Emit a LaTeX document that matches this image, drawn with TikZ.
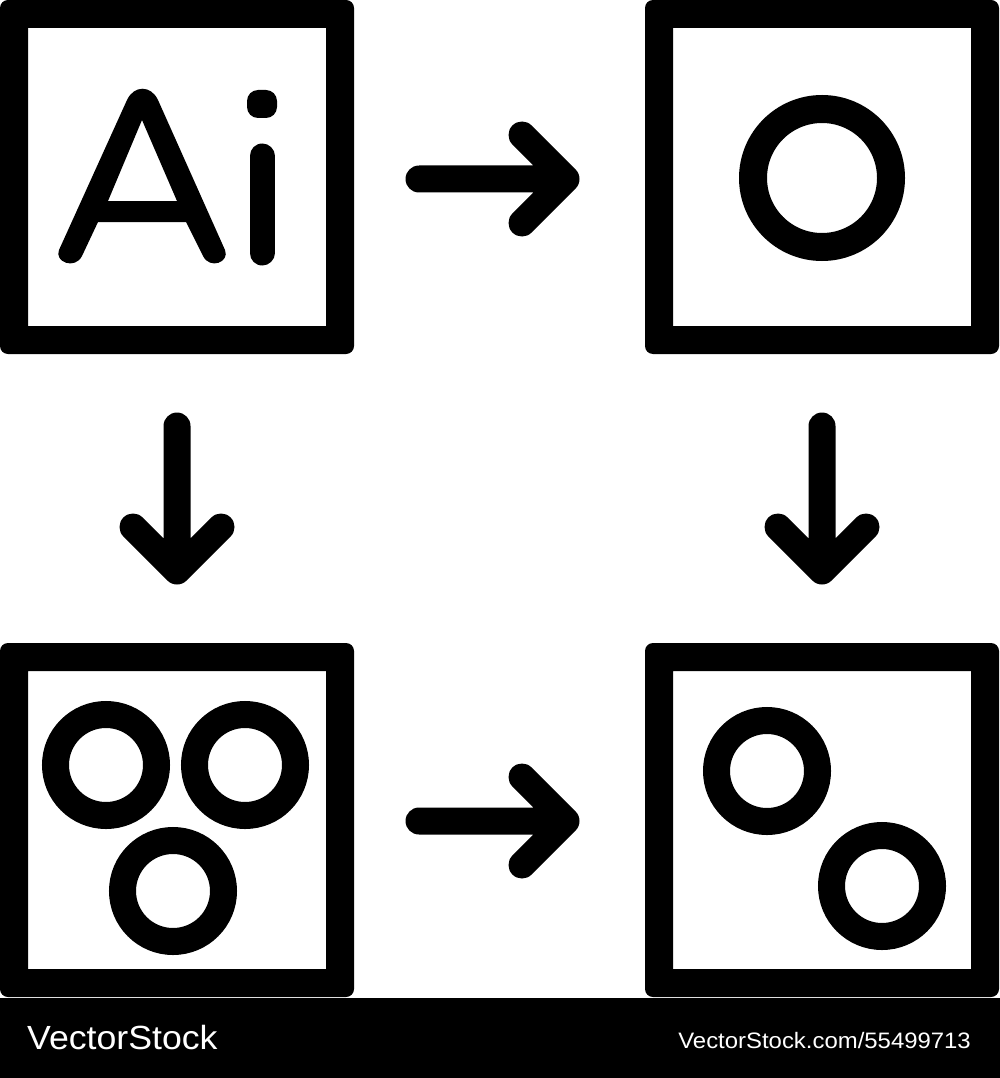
\documentclass[tikz,border=0pt]{standalone}
\usepackage{fontspec}
\setmainfont{Liberation Sans}
\usetikzlibrary{calc}
\begin{document}
\begin{tikzpicture}[x=1pt,y=-1pt,
  box/.style={minimum size=354pt, inner sep=0pt, outer sep=0pt},
  conn/.style={line width=27pt, line cap=round, line join=round},
  ring/.style={line width=27pt},
  wm/.style={text=white, inner sep=0pt}]
\useasboundingbox (0,0) rectangle (1000,1078);

% boxes
\node[box] (ai)    at (177,177) {};
\node[box] (one)   at (822,177) {};
\node[box] (three) at (177,820) {};
\node[box] (two)   at (822,820) {};
\foreach \n in {ai,one,three,two}
  \fill[even odd rule, rounded corners=8pt] (\n.north west) rectangle (\n.south east)
     [sharp corners] ($(\n.north west)+(28,28)$) rectangle ($(\n.south east)+(-28,-28)$);

% "Ai" glyphs
\fill[even odd rule] (59,250) -- (127,100) .. controls (134,85) and (151,85) .. (158,100)
   -- (225,250) .. controls (230,262) and (210,270) .. (203,256) -- (186,222) -- (98,222)
   -- (82,256) .. controls (75,270) and (54,262) .. (59,250) -- cycle
   (108,201) -- (142,120) -- (177,201) -- cycle;
\draw[line width=25pt, line cap=round] (262,156) -- (262,253);
\fill[rounded corners=11pt] (247,90) rectangle (277,118);

% circles
\draw[ring, line width=28pt] (822,178) circle[radius=69];
\draw[ring] (106,765) circle[radius=50.5];
\draw[ring] (245,765) circle[radius=50.5];
\draw[ring] (173,891) circle[radius=50.5];
\draw[ring] (767,771) circle[radius=50.5];
\draw[ring] (882,886) circle[radius=50.5];

% connectors
\draw[conn] ($(ai.east)+(65,2)$) -- ($(one.west)+(-79,2)$) coordinate (t1)
  ($(t1)+(-44,-44)$) -- (t1) -- ($(t1)+(-44,44)$);
\draw[conn] ($(three.east)+(65,1)$) -- ($(two.west)+(-79,1)$) coordinate (t2)
  ($(t2)+(-44,-44)$) -- (t2) -- ($(t2)+(-44,44)$);
\draw[conn] ($(ai.south)+(0,72)$) -- ($(three.north)+(0,-72)$) coordinate (t3)
  ($(t3)+(-44,-44)$) -- (t3) -- ($(t3)+(44,-44)$);
\draw[conn] ($(one.south)+(0,72)$) -- ($(two.north)+(0,-72)$) coordinate (t4)
  ($(t4)+(-44,-44)$) -- (t4) -- ($(t4)+(44,-44)$);

% watermark bar
\fill (0,998) rectangle (1000,1078);
\node[wm, anchor=base west, font=\fontsize{33.5}{40}\selectfont] (brand) at (27,1049)
  {\scalebox{1.065}[1]{VectorStock}};
\node[wm, anchor=base east, font=\fontsize{22.35}{27}\selectfont] (url) at (971,1048)
  {\scalebox{1.07}[1]{VectorStock.com/55499713}};
\end{tikzpicture}
\end{document}
